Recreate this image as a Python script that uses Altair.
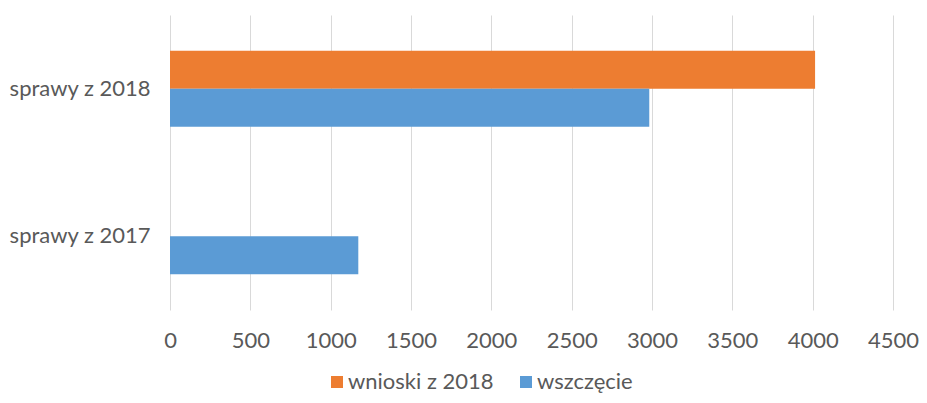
import altair as alt
import pandas as pd

categories = ["sprawy z 2018", "sprawy z 2017"]
series = ["wnioski z 2018", "wszczęcie"]
wnioski = [4015, 0]
wszczecie = [2983, 1172]
colors = ["#ED7D31", "#5B9BD5"]
x_ticks = [0, 500, 1000, 1500, 2000, 2500, 3000, 3500, 4000, 4500]

rows = []
for i, c in enumerate(categories):
    rows.append({"kategoria": c, "seria": series[0], "wartosc": wnioski[i]})
    rows.append({"kategoria": c, "seria": series[1], "wartosc": wszczecie[i]})
df = pd.DataFrame(rows)

FONT = "Lato"
GRAY = "#595959"

chart = alt.Chart(df).mark_bar().encode(
    y=alt.Y("kategoria:N", sort=categories, title=None,
            scale=alt.Scale(paddingInner=0.485, paddingOuter=0.2425),
            axis=alt.Axis(domain=False, ticks=False, labelFont=FONT, labelFontSize=22,
                          labelColor=GRAY, labelPadding=20, labelLimit=200)),
    yOffset=alt.YOffset("seria:N", sort=series, scale=alt.Scale(domain=series)),
    x=alt.X("wartosc:Q", title=None,
            scale=alt.Scale(domain=[0, 4500], nice=False),
            axis=alt.Axis(values=x_ticks, format="d", domain=False, ticks=False, grid=True,
                          gridColor="#d9d9d9", labelFont=FONT, labelFontSize=22,
                          labelColor=GRAY, labelPadding=20, labelFlush=False)),
    color=alt.Color("seria:N", sort=series,
                    scale=alt.Scale(domain=series, range=colors),
                    legend=alt.Legend(title=None, orient="none", direction="horizontal",
                                      legendX=156, legendY=356, symbolType="square",
                                      symbolSize=144, symbolStrokeWidth=0,
                                      labelFont=FONT, labelFontSize=22, labelColor=GRAY,
                                      columnPadding=21, labelOffset=0)),
).properties(
    width=723, height=295,
    autosize=alt.AutoSizeParams(type="none"),
    padding={"left": 162, "top": 7, "right": 26, "bottom": 85},
).configure_view(stroke=None)

chart.save("out.html", embed_options={"renderer": "svg", "actions": False})
